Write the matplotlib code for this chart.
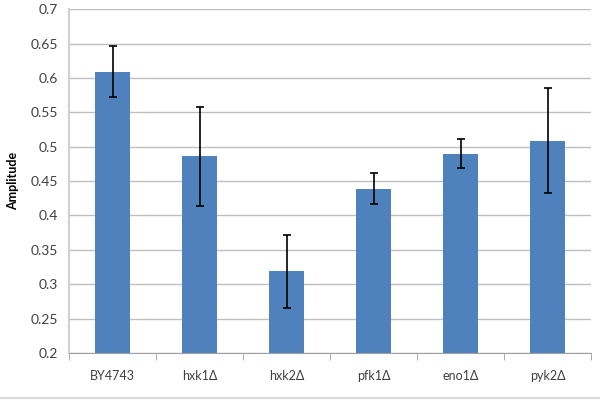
import numpy as np
import matplotlib.pyplot as plt
from matplotlib.lines import Line2D

# data
strains = ['BY4743', 'hxk1Δ', 'hxk2Δ', 'pfk1Δ', 'eno1Δ', 'pyk2Δ']
amplitude = [0.609, 0.486, 0.319, 0.439, 0.490, 0.509]
err_low = [0.036, 0.072, 0.053, 0.022, 0.021, 0.076]
err_high = [0.038, 0.072, 0.052, 0.023, 0.021, 0.076]

plt.rcParams['font.family'] = ['Lato', 'DejaVu Sans']

fig = plt.figure(figsize=(6, 4), dpi=100)
ax = fig.add_axes([0.115, 0.1175, 0.87, 0.8595])

x = np.arange(len(strains))
ax.bar(x, amplitude, width=0.4, color='#4F81BD', zorder=2)
ax.errorbar(x, amplitude, yerr=[err_low, err_high], fmt='none',
            ecolor='black', elinewidth=1.2, capsize=3, capthick=1.2, zorder=3)

ax.set_ylim(0.2, 0.7)
ax.set_xlim(-0.5, len(strains) - 0.5)
ax.set_yticks(np.arange(0.2, 0.701, 0.05))
ax.set_yticklabels(['0.2', '0.25', '0.3', '0.35', '0.4', '0.45', '0.5',
                    '0.55', '0.6', '0.65', '0.7'])
ax.yaxis.grid(True, color='#BFBFBF', linewidth=1, zorder=0)
ax.set_axisbelow(True)

ax.set_xticks(x)
ax.set_xticklabels(strains)
ax.set_xticks(np.arange(-0.5, len(strains), 1), minor=True)
ax.tick_params(axis='x', which='major', length=0, pad=12, labelsize=9, colors='#404040')
ax.tick_params(axis='x', which='minor', length=5, color='#A0A0A0', direction='out')
ax.tick_params(axis='y', length=0, pad=8, labelsize=10, colors='#404040')

for s in ['top', 'right']:
    ax.spines[s].set_visible(False)
ax.spines['left'].set_color('#D0D0D0')
ax.spines['left'].set_linewidth(1.5)
ax.spines['bottom'].set_color('#A0A0A0')

ax.set_ylabel('Amplitude', fontweight='bold', fontsize=9, labelpad=8)

fig.add_artist(Line2D([0, 1], [0.005, 0.005], color='#D9D9D9', linewidth=1.5))

fig.savefig('out.png', dpi=100)
